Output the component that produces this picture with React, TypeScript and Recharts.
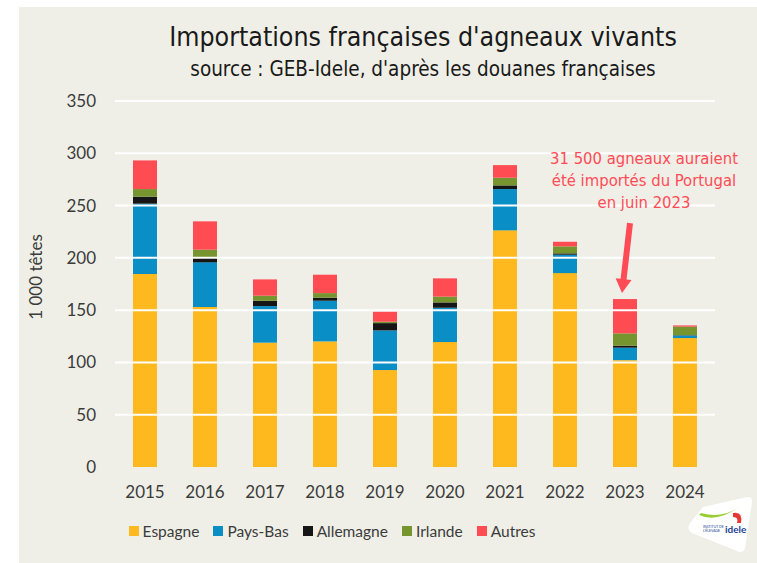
import React from "react";
import {
  Bar,
  BarChart,
  ReferenceDot,
  ReferenceLine,
  XAxis,
  YAxis,
} from "recharts";

const years = ["2015", "2016", "2017", "2018", "2019", "2020", "2021", "2022", "2023", "2024"];
const espagne = [184.5, 152.9, 118.9, 120.1, 92.7, 119.5, 226.3, 185.4, 102.2, 123.3];
const paysBas = [67.3, 42.8, 35.0, 38.9, 37.9, 32.8, 39.5, 17.6, 11.9, 2.5];
const allemagne = [6.7, 4.5, 5.1, 2.9, 7.0, 5.1, 3.5, 1.3, 1.9, 0.3];
const irlande = [7.3, 7.6, 4.8, 4.4, 1.3, 5.5, 7.3, 6.7, 11.8, 8.1];
const autres = [27.4, 27.1, 15.6, 17.6, 9.6, 17.5, 12.1, 4.4, 32.8, 1.2];
const yTicks = [0, 50, 100, 150, 200, 250, 300, 350];

const annotationYear = "2023";
const annotationLines = [
  "31 500 agneaux auraient",
  "été importés du Portugal",
  "en juin 2023",
];

const series = [
  { key: "espagne", name: "Espagne", color: "#FDB91E" },
  { key: "paysBas", name: "Pays-Bas", color: "#0A8EC6" },
  { key: "allemagne", name: "Allemagne", color: "#161616" },
  { key: "irlande", name: "Irlande", color: "#77952E" },
  { key: "autres", name: "Autres", color: "#FF4B52" },
];

const data = years.map((year, i) => ({
  year,
  espagne: espagne[i],
  paysBas: paysBas[i],
  allemagne: allemagne[i],
  irlande: irlande[i],
  autres: autres[i],
}));

const idx = years.indexOf(annotationYear);
const annotationTop =
  espagne[idx] + paysBas[idx] + allemagne[idx] + irlande[idx] + autres[idx];

const BG = "#EFEFE7";
const TEXT = "#3b3b3b";
const RED = "#FF4B55";
const NARROW = "'DejaVu Sans Condensed', 'Liberation Sans Narrow', sans-serif";
const BODY = "Lato, 'Open Sans', sans-serif";

function Annotation(props: any) {
  const { cx, cy } = props;
  if (cx == null || cy == null) return null;
  // arrow from the note down to the top of the bar
  const tipX = cx - 3;
  const tipY = cy - 6;
  const tailX = cx + 5;
  const tailY = cy - 76;
  const dx = tipX - tailX;
  const dy = tipY - tailY;
  const len = Math.sqrt(dx * dx + dy * dy);
  const ux = dx / len;
  const uy = dy / len;
  const px = -uy;
  const py = ux;
  const headLen = 14;
  const headW = 8;
  const shaftW = 3;
  const bx = tipX - ux * headLen;
  const by = tipY - uy * headLen;
  const pts = [
    [tailX + px * shaftW, tailY + py * shaftW],
    [bx + px * shaftW, by + py * shaftW],
    [bx + px * headW, by + py * headW],
    [tipX, tipY],
    [bx - px * headW, by - py * headW],
    [bx - px * shaftW, by - py * shaftW],
    [tailX - px * shaftW, tailY - py * shaftW],
  ]
    .map((p) => p.join(","))
    .join(" ");
  return (
    <g>
      <polygon points={pts} fill={RED} />
      {annotationLines.map((line, i) => (
        <text
          key={i}
          x={cx + 19}
          y={cy - 135 + i * 22}
          textAnchor="middle"
          fill={RED}
          fontFamily={NARROW}
          fontSize={16.5}
        >
          {line}
        </text>
      ))}
    </g>
  );
}

function LegendRow() {
  return (
    <div
      style={{
        position: "absolute",
        left: 0,
        top: 515,
        width: 626,
        display: "flex",
        justifyContent: "center",
        gap: 14,
        fontFamily: BODY,
        fontSize: 15.5,
        color: TEXT,
      }}
    >
      {series.map((s) => (
        <div key={s.key} style={{ display: "flex", alignItems: "center" }}>
          <span
            style={{
              display: "inline-block",
              width: 10,
              height: 10,
              background: s.color,
              marginRight: 4,
            }}
          />
          {s.name}
        </div>
      ))}
    </div>
  );
}

export default function App() {
  return (
    <div style={{ position: "relative", width: 757, height: 563, background: "#fff" }}>
      <style>{`body{margin:0}`}</style>
      <div
        style={{
          position: "absolute",
          left: 19,
          top: 7,
          width: 738,
          height: 556,
          background: BG,
        }}
      >
        <div
          style={{
            position: "absolute",
            left: 0,
            top: 14,
            width: 808,
            textAlign: "center",
            fontFamily: NARROW,
            fontSize: 26.5,
            color: "#1a1a1a",
          }}
        >
          Importations françaises d'agneaux vivants
        </div>
        <div
          style={{
            position: "absolute",
            left: 0,
            top: 50,
            width: 808,
            textAlign: "center",
            fontFamily: NARROW,
            fontSize: 20.5,
            color: "#1a1a1a",
          }}
        >
          source : GEB-Idele, d'après les douanes françaises
        </div>
        <div
          style={{
            position: "absolute",
            left: 16,
            top: 270,
            transform: "translate(-50%, -50%) rotate(-90deg)",
            fontFamily: BODY,
            fontSize: 17,
            color: TEXT,
            whiteSpace: "nowrap",
          }}
        >
          1 000 têtes
        </div>
        <BarChart
          width={738}
          height={556}
          data={data}
          margin={{ top: 94, right: 42, bottom: 66, left: 0 }}
          barSize={24}
        >
          {yTicks
            .filter((t) => t > 0)
            .map((t) => (
              <ReferenceLine key={t} y={t} stroke="#ffffff" strokeWidth={2} />
            ))}
          <XAxis
            dataKey="year"
            axisLine={false}
            tickLine={false}
            height={30}
            tickMargin={13}
            tick={{ fill: TEXT, fontSize: 17, fontFamily: BODY }}
          />
          <YAxis
            domain={[0, 350]}
            ticks={yTicks}
            axisLine={false}
            tickLine={false}
            width={96}
            tickMargin={13}
            tick={{ fill: TEXT, fontSize: 17, fontFamily: BODY }}
          />
          {series.map((s) => (
            <Bar
              key={s.key}
              dataKey={s.key}
              name={s.name}
              stackId="a"
              fill={s.color}
              isAnimationActive={false}
            />
          ))}
          <ReferenceDot
            x={annotationYear}
            y={annotationTop}
            r={0}
            shape={(p: any) => <Annotation {...p} />}
          />
        </BarChart>
        <LegendRow />
        <svg
          width={80}
          height={70}
          style={{ position: "absolute", left: 658, top: 486 }}
        >
          <path
            d="M26 14 L70 4 Q76 3 75 10 L68 55 Q66 61 60 58 L15 40 Q9 36 13 30 Z"
            fill="#ffffff"
          />
          <path d="M22 22 Q40 30 62 14 Q45 26 24 20 Z" fill="#9ACD32" />
          <path d="M56 20 Q66 18 64 30 L60 30 Q62 24 56 24 Z" fill="#E53935" />
          <text x={26} y={35} fontSize={3.5} fill="#1c3f94" fontFamily={BODY}>
            INSTITUT DE
          </text>
          <text x={26} y={39} fontSize={3.5} fill="#1c3f94" fontFamily={BODY}>
            L'ÉLEVAGE
          </text>
          <text x={48} y={40} fontSize={10} fontWeight={700} fill="#1c3f94" fontFamily={BODY}>
            idele
          </text>
        </svg>
      </div>
    </div>
  );
}
